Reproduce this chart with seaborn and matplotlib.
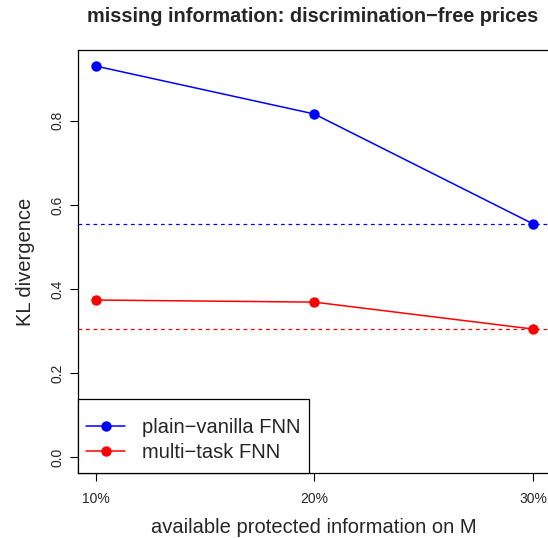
import matplotlib
matplotlib.use("Agg")
import matplotlib.pyplot as plt
from matplotlib.patches import Rectangle
import seaborn as sns
import pandas as pd

# available protected information (in %)
levels = [10, 20, 30]
tick_labels = ["10%", "20%", "30%"]
plain_vanilla = [0.930, 0.816, 0.555]
multi_task = [0.374, 0.369, 0.305]
models = ["plain−vanilla FNN", "multi−task FNN"]
ref_plain = 0.555
ref_multi = 0.305

data = pd.DataFrame({
    "level": levels * 2,
    "kl": plain_vanilla + multi_task,
    "model": [models[0]] * 3 + [models[1]] * 3,
})

sns.set_style("white")
plt.rcParams["font.family"] = ["Liberation Sans", "DejaVu Sans"]

fig = plt.figure(figsize=(5.48, 5.38), dpi=100)
ax = fig.add_axes([78 / 548, 65 / 538, 472.5 / 548, 423 / 538])

ax.axhline(ref_plain, color="blue", ls=(0, (3, 3)), lw=0.9)
ax.axhline(ref_multi, color="red", ls=(0, (3, 3)), lw=0.9)

sns.lineplot(data=data, x="level", y="kl", hue="model",
             palette={models[0]: "blue", models[1]: "red"},
             marker="o", markersize=7.5, markeredgewidth=0, lw=1.1, ax=ax)

ax.set_xlim(9.2, 30.8)
ax.set_ylim(-0.037, 0.968)
ax.set_xticks(levels)
ax.set_xticklabels(tick_labels, fontsize=10)
ax.set_yticks([0.0, 0.2, 0.4, 0.6, 0.8])
ax.set_yticklabels(["0.0", "0.2", "0.4", "0.6", "0.8"], fontsize=10, rotation=90, va="center")
ax.tick_params(axis="x", direction="out", length=5.5, width=0.8, color="black", pad=8, bottom=True)
ax.tick_params(axis="y", direction="out", length=5.5, width=0.8, color="black", pad=4.5, left=True)
for s in ax.spines.values():
    s.set_color("black")
    s.set_linewidth(0.9)

ax.set_xlabel("available protected information on M", fontsize=14.5, labelpad=9)
ax.set_ylabel("KL divergence", fontsize=14.5, labelpad=11)
fig.text(313 / 548, 1 - 16 / 538, "missing information: discrimination−free prices",
         ha="center", va="center", fontsize=14.3, fontweight="bold")

# R-style legend box in the lower left corner
box_w, box_h = 231 / 472.5, 74 / 423
ax.add_patch(Rectangle((0, 0), box_w, box_h, transform=ax.transAxes, facecolor="white",
                       edgecolor="black", lw=0.9, zorder=4, clip_on=False))
leg = ax.legend(loc="center", bbox_to_anchor=(0, -4 / 423, box_w, box_h), frameon=False,
                fontsize=14.5, handlelength=1.95, handletextpad=0.85,
                borderpad=0, labelspacing=0.3)
leg.set_zorder(5)

fig.savefig("out.png", dpi=100)
